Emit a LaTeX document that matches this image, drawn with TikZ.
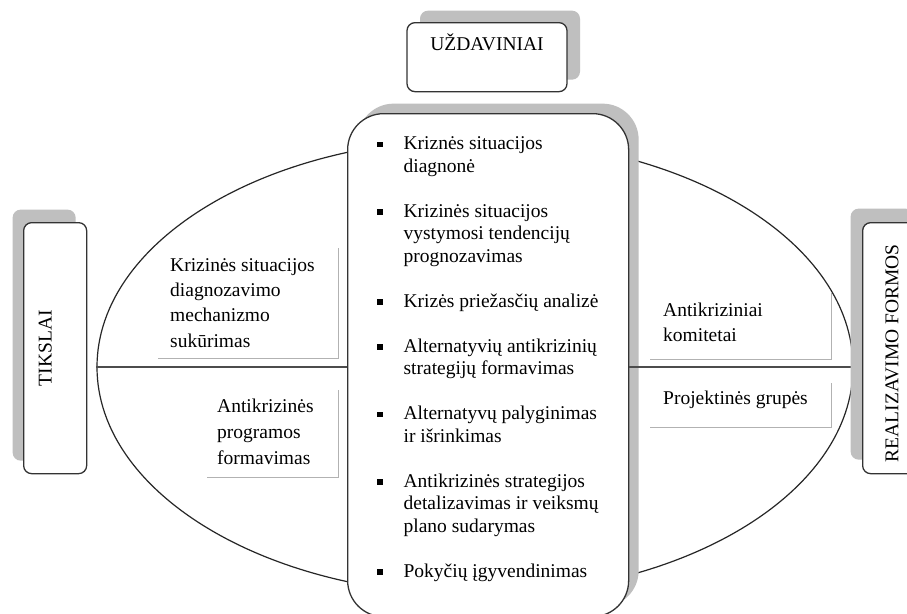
\documentclass[tikz,border=0pt]{standalone}
\usepackage{fontspec}
\setmainfont{Liberation Serif}
\usepackage{graphicx}
\usetikzlibrary{shapes.geometric,shadows}
\newcommand\bul{\llap{\rule[2.5pt]{5.5pt}{5.5pt}\hspace{21pt}}}
\newcommand\firstitem{\noindent\hangindent=36pt\hangafter=0\bul}
\newcommand\citem{\par\vskip22.5pt\noindent\hangindent=36pt\hangafter=0\bul}
\begin{document}
\begin{tikzpicture}[x=1pt,y=-1pt,
  every node/.style={font=\fontsize{19.5pt}{22.5pt}\selectfont, inner sep=0pt},
  boxc/.style={draw=black!80, line width=1.3pt, fill=white, rounded corners=8pt},
  shad/.style 2 args={drop shadow={shadow xshift=#1, shadow yshift=#2, fill=black!25, opacity=1}},
  lab/.style={anchor=north west, inner ysep=0pt},
  labline/.style={draw=black!30, line width=1.6pt},
  hline/.style={draw=black!70, line width=1.5pt}
]
\useasboundingbox (0,0) rectangle (907,613);
\fill[white] (0,0) rectangle (907,613);
\clip (0,0) rectangle (907,613);

% ellipse
\node[draw=black!85, line width=1.2pt, shape=ellipse, minimum width=756pt, minimum height=456pt] (ell) at (475,367) {};

% side labels
\node[lab, text height=23pt, text depth=87pt, inner xsep=12pt] (l1) at (158,248)
  {\parbox[t]{156pt}{\baselineskip=25.3pt Krizinės situacijos\newline diagnozavimo\newline mechanizmo\newline sukūrimas}};
\draw[labline] (l1.north east) -- (l1.south east) -- (l1.south west);

\node[lab, text height=22pt, text depth=65pt, inner xsep=10pt] (l2) at (207,390)
  {\parbox[t]{111pt}{\baselineskip=26pt Antikrizinės\newline programos\newline formavimas}};
\draw[labline] (l2.north east) -- (l2.south east) -- (l2.south west);

\node[lab, text height=23pt, text depth=43pt, inner xsep=13pt] (r1) at (650,293)
  {\parbox[t]{155pt}{\baselineskip=25pt Antikriziniai\newline komitetai}};
\draw[labline] (r1.north east) -- (r1.south east) -- (r1.south west);

\node[lab, text height=21pt, text depth=23pt, inner xsep=13pt] (r2) at (650,383)
  {\parbox[t]{155pt}{Projektinės grupės}};
\draw[labline] (r2.north east) -- (r2.south east) -- (r2.south west);

% centre box
\node[boxc, rounded corners=36pt, shad={10pt}{10pt}, anchor=north west,
      text height=36pt, text depth=467pt, inner xsep=20pt] (ctr) at (347,113)
  {\parbox[t]{241pt}{%
   \firstitem Kriznės situacijos\newline diagnonė
   \citem Krizinės situacijos\newline vystymosi tendencijų\newline prognozavimas
   \citem Krizės priežasčių analizė
   \citem Alternatyvių antikrizinių\newline strategijų formavimas
   \citem Alternatyvų palyginimas\newline ir išrinkimas
   \citem Antikrizinės strategijos\newline detalizavimas ir veiksmų\newline plano sudarymas
   \citem Pokyčių įgyvendinimas}};

\draw[hline] (ell.west) -- (ell.west -| ctr.west);
\draw[hline] (ell.east) -- (ell.east -| ctr.east);

% top box
\node[boxc, shad={13pt}{12pt}, anchor=north, minimum width=160pt,
      text height=28pt, text depth=41pt] (uzd) at (487,22) {UŽDAVINIAI};

% left box
\node[boxc, shad={-11pt}{13pt}, anchor=north west, minimum width=63pt, minimum height=251pt]
  (tik) at (23,222) {\rotatebox{90}{TIKSLAI}\rule{20pt}{0pt}};

% right box
\node[boxc, shad={-12pt}{14pt}, anchor=north west, minimum width=63pt, minimum height=251pt]
  (real) at (862,222) {\rotatebox{90}{REALIZAVIMO FORMOS\rule{10pt}{0pt}}\rule{4pt}{0pt}};
\end{tikzpicture}
\end{document}
